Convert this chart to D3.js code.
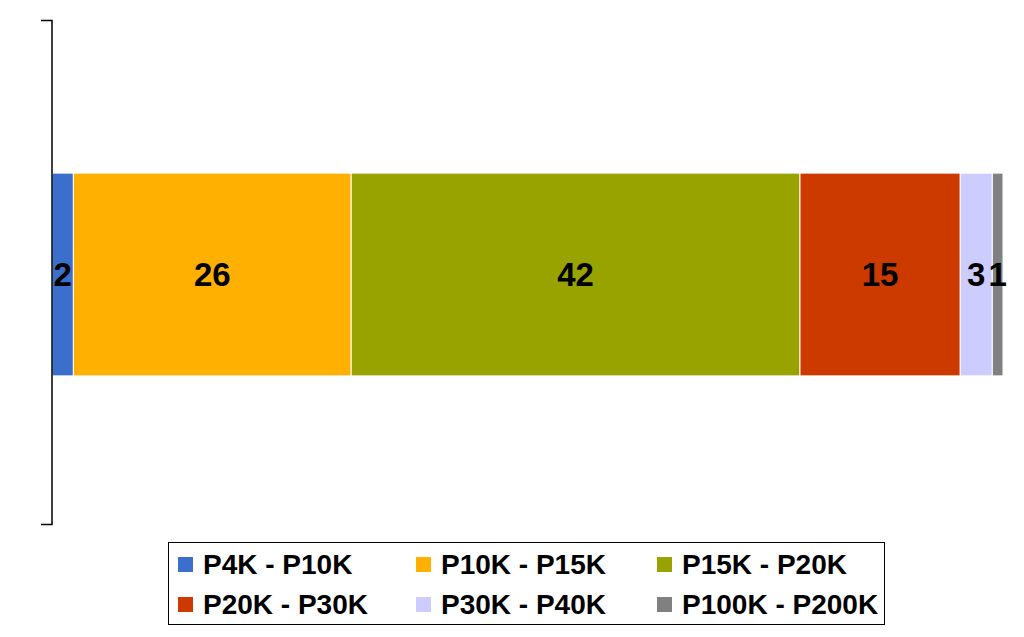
<!DOCTYPE html>
<html><head><meta charset="utf-8">
<script src="https://cdn.jsdelivr.net/npm/d3@7"></script>
<style>body{margin:0;background:#fff}svg{display:block}</style>
</head><body>
<script>
const categories = ["Income"];
const seriesNames = ["P4K - P10K","P10K - P15K","P15K - P20K","P20K - P30K","P30K - P40K","P100K - P200K"];
const seriesValues = [2, 26, 42, 15, 3, 1];
const seriesColors = ["#3A6FCB","#FFB000","#99A300","#CC3A00","#CCCCFF","#808080"];

const W = 1024, H = 637;
const svg = d3.select("body").append("svg").attr("width", W).attr("height", H);
const total = d3.sum(seriesValues);
const x = d3.scaleLinear().domain([0, total]).range([52, 1003]);
const y = d3.scaleBand().domain(categories).range([21, 528]).paddingInner(0.6).paddingOuter(0.3);

const stacked = [];
let acc = 0;
seriesValues.forEach((v, i) => { stacked.push({name: seriesNames[i], v, x0: acc, x1: acc + v, c: seriesColors[i]}); acc += v; });

const g = svg.append("g");
g.selectAll("rect.seg").data(stacked).join("rect").attr("class","seg")
  .attr("x", d => x(d.x0)).attr("width", d => x(d.x1) - x(d.x0))
  .attr("y", y(categories[0])).attr("height", y.bandwidth())
  .attr("fill", d => d.c).attr("stroke", "#fff").attr("stroke-width", 1);

g.selectAll("text.lab").data(stacked).join("text").attr("class","lab")
  .attr("x", d => (x(d.x0) + x(d.x1)) / 2)
  .attr("y", y(categories[0]) + y.bandwidth() / 2)
  .attr("dy", "0.36em")
  .attr("text-anchor", "middle")
  .style("font-family", "Liberation Sans, Arial, sans-serif")
  .style("font-weight", "bold").style("font-size", "33px").attr("fill", "#000")
  .text(d => d.v);

// category axis (left)
const yAxis = svg.append("g").attr("transform", "translate(52,0)")
  .call(d3.axisLeft(y).tickSize(0).tickFormat(""));
yAxis.select(".domain").attr("stroke", "#000").attr("stroke-width", 1.5).attr("d", "M-11,20.5H0V524.5H-11");

// legend
const lg = svg.append("g");
lg.append("rect").attr("x", 168.5).attr("y", 542.5).attr("width", 716).attr("height", 82)
  .attr("fill", "#fff").attr("stroke", "#000").attr("stroke-width", 1);
const colX = [178, 416, 657];
const rowY = [574, 614];
const items = lg.selectAll("g.item").data(stacked).join("g").attr("class","item")
  .attr("transform", (d, i) => `translate(${colX[i % 3]},${rowY[Math.floor(i / 3)]})`);
items.append("rect").attr("x", 0).attr("y", -17).attr("width", 15).attr("height", 15).attr("fill", d => d.c);
items.append("text").attr("x", 25).attr("y", 0)
  .style("font-family", "Liberation Sans, Arial, sans-serif")
  .style("font-weight", "bold").style("font-size", "28px").attr("fill", "#000")
  .text(d => d.name);
</script>
</body></html>
